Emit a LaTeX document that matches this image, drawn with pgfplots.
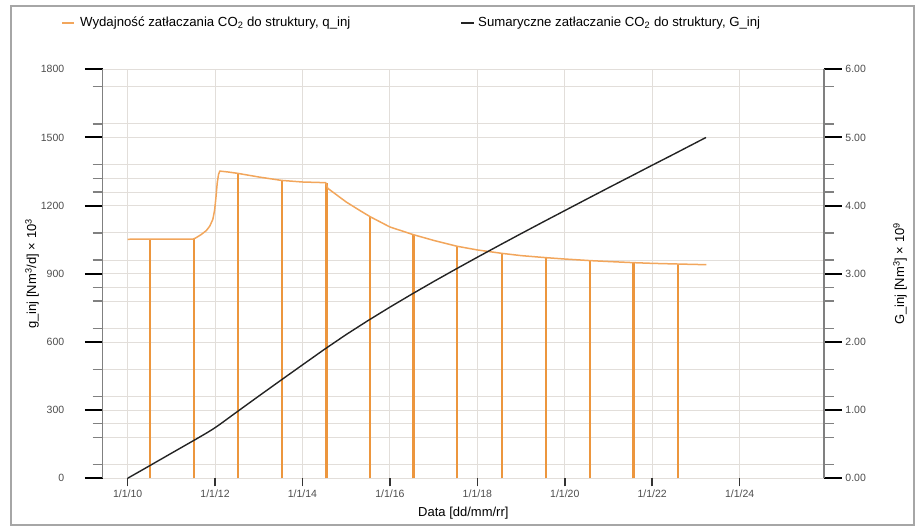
\documentclass[border=0pt]{standalone}
\usepackage{pgfplots}
\pgfplotsset{compat=1.18}
\usepackage{fontspec}
\setmainfont{Liberation Sans}

\definecolor{qorange}{RGB}{242,166,92}
\definecolor{barorange}{RGB}{236,150,62}
\definecolor{gridc}{RGB}{226,222,218}
\definecolor{axisgray}{RGB}{128,128,128}
\definecolor{gline}{RGB}{35,35,35}

% injection rate q_inj [10^3 Nm3/d]
\pgfplotstableread{
x        q
2010.00  1052
2011.50  1053
2011.55  1057
2011.67  1071
2011.80  1090
2011.88  1110
2011.95  1140
2011.99  1180
2012.02  1235
2012.05  1300
2012.08  1338
2012.11  1352
2012.30  1348
2012.52  1342
2013.00  1326
2013.52  1311
2014.00  1304
2014.53  1301
2014.58  1276
2015.00  1216
2015.30  1180
2015.55  1151
2016.00  1106
2016.54  1072
2017.00  1047
2017.54  1021
2018.00  1005
2018.56  990
2019.00  980
2019.57  971
2020.00  965
2020.58  958
2021.00  954
2021.57  949
2022.00  946
2022.59  943
2023.24  940
}\qinj

% yearly markers of the injection rate (thick and thin strokes)
\pgfplotstableread{
x        q
2012.52  1342
2014.55  1301
2016.54  1072
2019.57  971
2021.57  949
}\barsthick
\pgfplotstableread{
x        q
2010.51  1052
2011.52  1056
2013.53  1311
2015.54  1151
2017.54  1021
2018.56  990
2020.58  958
2022.59  943
}\barsthin

% cumulative injection G_inj [10^9 Nm3]
\pgfplotstableread{
x        G
2010.00  0
2010.50  0.183
2011.00  0.367
2011.54  0.565
2011.80  0.662
2011.96  0.725
2012.11  0.791
2012.50  0.974
2013.00  1.206
2013.52  1.445
2014.00  1.664
2014.50  1.891
2015.00  2.109
2015.50  2.314
2016.00  2.511
2016.50  2.701
2017.00  2.886
2017.50  3.066
2018.00  3.243
2018.50  3.417
2019.00  3.589
2019.50  3.759
2020.00  3.927
2020.50  4.095
2021.00  4.262
2021.50  4.427
2022.00  4.593
2022.50  4.757
2023.23  5.000
}\Ginj

\pgfplotsset{
  dualbase/.style={
    scale only axis,
    width=721.3pt, height=409pt,
    at={(102.7pt,50.7pt)}, anchor=south west,
    xmin=2009.43, xmax=2025.93,
    /pgf/number format/assume math mode=true,
    /pgf/number format/1000 sep={},
    tick label style={font=\fontsize{10.5}{12}\selectfont, text=black!70},
    label style={font=\fontsize{13}{15}\selectfont},
    tick align=outside,
    major tick length=18pt,
    minor tick length=10pt,
    major tick style={black, line width=2pt},
    minor tick style={axisgray, line width=1.4pt},
  },
}

\begin{document}
\begin{tikzpicture}[x=1pt,y=1pt]
\useasboundingbox (0,0) rectangle (917,529);
\draw[color=black!35, line width=1.5pt] (11,4) rectangle (914,523);

% legend
\draw[qorange, line width=1.6pt] (62,506) -- (74,506);
\node[anchor=west, inner sep=0pt, font=\fontsize{13.2}{15}\selectfont] at (80,506)
  {Wydajność zatłaczania CO\textsubscript{2} do struktury, q\_inj};
\draw[gline, line width=1.6pt] (461,506) -- (474,506);
\node[anchor=west, inner sep=0pt, font=\fontsize{13.2}{15}\selectfont] at (478,506)
  {Sumaryczne zatłaczanie CO\textsubscript{2} do struktury, G\_inj};

% left axis: injection rate
\begin{axis}[
  dualbase,
  ymin=0, ymax=1800,
  axis y line*=left,
  axis x line*=bottom,
  x axis line style={draw=none},
  y axis line style={axisgray, line width=1.5pt},
  xtick={2010,2012,...,2024},
  xticklabels={1/1/10,1/1/12,1/1/14,1/1/16,1/1/18,1/1/20,1/1/22,1/1/24},
  xtick style={/pgfplots/major tick length=8pt, line width=1.5pt, black!80},
  xticklabel style={yshift=10pt},
  ytick={0,300,...,1800},
  minor ytick={60,180,240,360,480,660,780,840,960,1080,1260,1320,1380,1560,1725},
  grid=both,
  major grid style={gridc, line width=0.9pt},
  minor grid style={gridc, line width=0.9pt},
  yticklabel style={xshift=-17pt},
  ylabel={g\_inj [Nm\textsuperscript{3}/d] × 10\textsuperscript{3}},
  ylabel style={at={(axis description cs:-0.098,0.5)}, anchor=center},
  xlabel={Data [dd/mm/rr]},
  xlabel style={at={(axis description cs:0.5,-0.0848)}, anchor=center},
]
\addplot[ycomb, barorange, line width=2.4pt, line cap=butt] table[x=x, y=q] {\barsthick};
\addplot[ycomb, barorange, line width=2pt, line cap=butt] table[x=x, y=q] {\barsthin};
\addplot[qorange, line width=1.5pt] table[x=x, y=q] {\qinj};
\end{axis}

% right axis: cumulative injection
\begin{axis}[
  dualbase,
  ymin=0, ymax=6,
  axis y line*=right,
  axis x line=none,
  y axis line style={axisgray, line width=1.5pt},
  ytick={0,1,...,6},
  minor ytick={0.2,0.6,0.8,1.2,1.6,2.2,2.6,2.8,3.2,3.6,4.2,4.4,4.6,5.2,5.75},
  yticklabel style={/pgf/number format/.cd, fixed, fixed zerofill, precision=2},
  ylabel={G\_inj [Nm\textsuperscript{3}] × 10\textsuperscript{9}},
  ylabel style={at={(axis description cs:1.1054,0.5)}, anchor=center},
]
\addplot[gline, line width=1.4pt] table[x=x, y=G] {\Ginj};
\end{axis}
\end{tikzpicture}
\end{document}
